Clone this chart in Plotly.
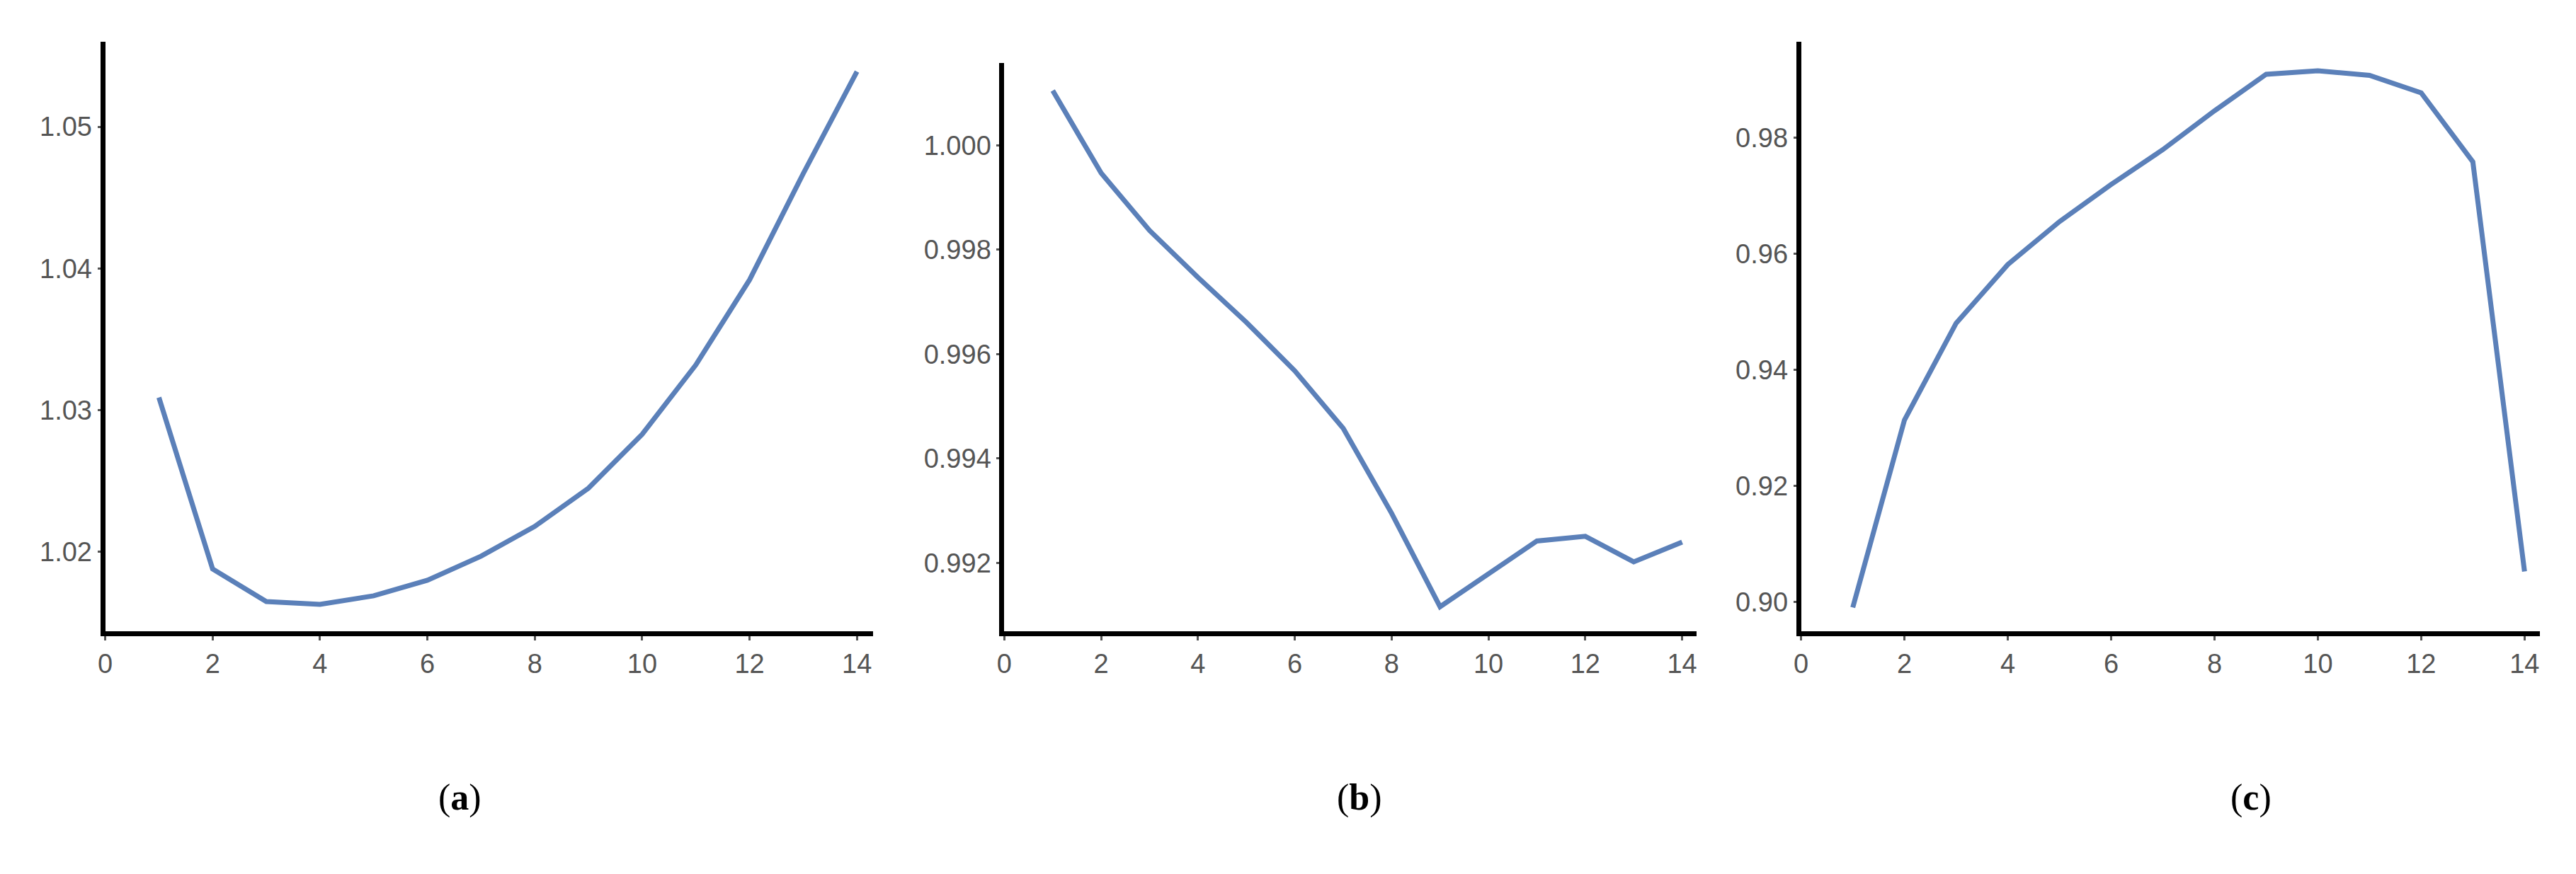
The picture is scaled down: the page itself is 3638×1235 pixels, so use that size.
import plotly.graph_objects as go

x_vals = list(range(1, 15))
series_a = [1.0309, 1.0188, 1.0165, 1.0163, 1.0169, 1.0180, 1.0197, 1.0218, 1.0245, 1.0283, 1.0332, 1.0392, 1.0467, 1.0539]
series_b = [1.00105, 0.99947, 0.99837, 0.99747, 0.99661, 0.99568, 0.99458, 0.99295, 0.99116, 0.99179, 0.99242, 0.99251, 0.99202, 0.99240]
series_c = [0.8990, 0.9313, 0.9480, 0.9581, 0.9655, 0.9719, 0.9779, 0.9846, 0.9909, 0.9915, 0.9907, 0.9877, 0.9758, 0.9052]
x_ticks = [0, 2, 4, 6, 8, 10, 12, 14]
ticks_a = [1.02, 1.03, 1.04, 1.05]
ticks_b = [0.992, 0.994, 0.996, 0.998, 1.000]
ticks_c = [0.90, 0.92, 0.94, 0.96, 0.98]
panel_labels = ["a", "b", "c"]

W, H = 3638, 1235
line_color = "#5b80b9"
fig = go.Figure()

panels = [
    (series_a, ticks_a, [1.0144, 1.056], (130, 1218), 51, ".2f"),
    (series_b, ticks_b, [0.99069, 1.00158], (1404, 2385), 81, ".3f"),
    (series_c, ticks_c, [0.8949, 0.9965], (2533, 3580), 51, ".2f"),
]
label_x = [600, 1907, 3202]

for i, (ys, yt, yr, (xl, xr), top, fmt) in enumerate(panels):
    n = "" if i == 0 else str(i + 1)
    fig.add_trace(go.Scatter(x=x_vals, y=ys, mode="lines", xaxis="x" + n, yaxis="y" + n,
                             line=dict(color=line_color, width=7), showlegend=False))
    axfont = dict(family="Liberation Sans Narrow, Liberation Sans, Arial", size=38, color="#555555")
    fig.layout["xaxis" + n] = dict(domain=[xl / W, xr / W], range=[0, 14.3], anchor="y" + n,
                                   tickvals=x_ticks, showline=True, linewidth=7, linecolor="black",
                                   showgrid=False, zeroline=False, ticks="outside", ticklen=6,
                                   tickwidth=3, tickcolor="#555", tickfont=axfont)
    fig.layout["yaxis" + n] = dict(domain=[1 - 884 / H, 1 - top / H], range=yr, anchor="x" + n,
                                   tickvals=yt, tickformat=fmt, showline=True, linewidth=7,
                                   linecolor="black", showgrid=False, zeroline=False,
                                   ticks="outside", ticklen=4, tickwidth=3, tickcolor="#555",
                                   tickfont=axfont)
    fig.add_annotation(text="(<b>%s</b>)" % panel_labels[i], x=label_x[i] / W, y=1 - 1150 / H,
                       xref="paper", yref="paper", showarrow=False,
                       font=dict(family="Liberation Serif, Times New Roman", size=52, color="black"))

fig.update_layout(width=W, height=H, margin=dict(l=0, r=0, t=0, b=0),
                  paper_bgcolor="white", plot_bgcolor="white")
fig.write_html("out.html")
